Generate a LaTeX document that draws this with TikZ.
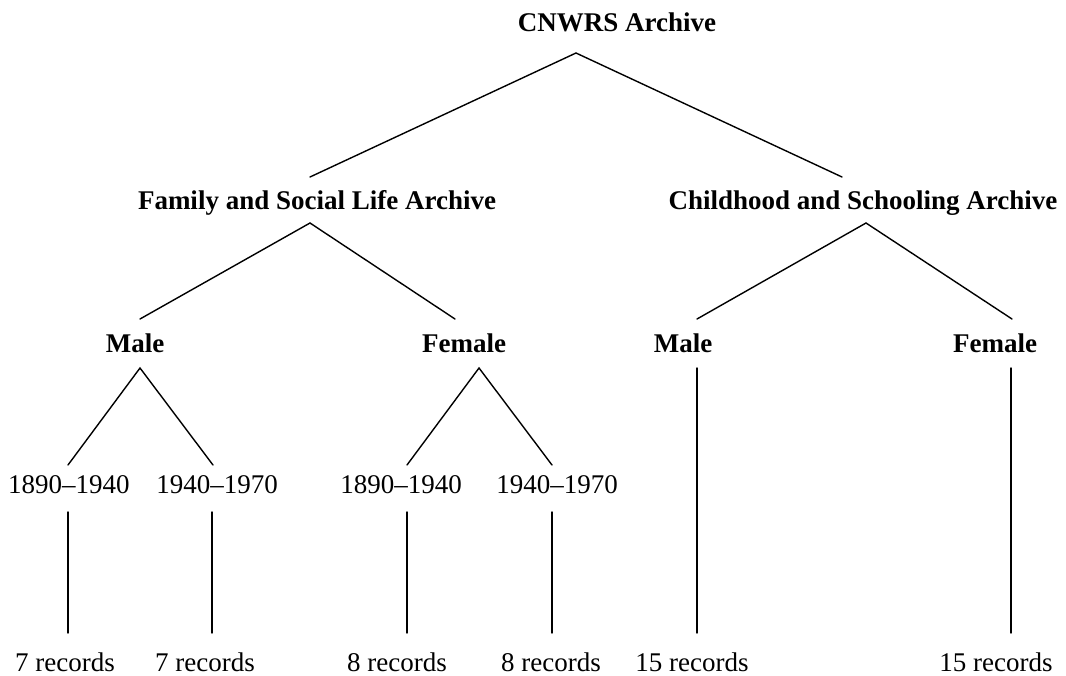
\documentclass[tikz,border=0pt]{standalone}
\usepackage{fontspec}
\setmainfont{Liberation Serif}
\begin{document}
\begin{tikzpicture}[x=1pt,y=-1pt,
  lbl/.style={anchor=base, inner sep=0pt, font=\fontsize{27}{30}\selectfont},
  blbl/.style={anchor=base, inner sep=0pt, font=\fontsize{27}{30}\selectfont\bfseries},
  edge/.style={line width=1.4pt, line cap=round}]
\useasboundingbox (0,0) rectangle (1066,675);
% nodes
\node[blbl] (root) at (617,31) {CNWRS Archive};
\node[blbl] (fam) at (317,209) {Family and Social Life Archive};
\node[blbl] (chi) at (863,209) {Childhood and Schooling Archive};
\node[blbl] (m1) at (135,352) {Male};
\node[blbl] (f1) at (464,352) {Female};
\node[blbl] (m2) at (683,352) {Male};
\node[blbl] (f2) at (995,352) {Female};
\node[lbl] (y11) at (69,493) {1890--1940};
\node[lbl] (y12) at (217,493) {1940--1970};
\node[lbl] (y21) at (401,493) {1890--1940};
\node[lbl] (y22) at (557,493) {1940--1970};
\node[lbl] (r11) at (65,671) {7 records};
\node[lbl] (r12) at (205,671) {7 records};
\node[lbl] (r21) at (397,671) {8 records};
\node[lbl] (r22) at (551,671) {8 records};
\node[lbl] (r3) at (692,671) {15 records};
\node[lbl] (r4) at (996,671) {15 records};
% connector end points
\coordinate (root-b) at (576,53);
\coordinate (fam-t) at (310,177);
\coordinate (chi-t) at (842,177);
\coordinate (fam-b) at (310,223);
\coordinate (chi-b) at (866,223);
\coordinate (m1-t) at (140,319);
\coordinate (f1-t) at (455,319);
\coordinate (m2-t) at (697,319);
\coordinate (f2-t) at (1012,319);
\coordinate (m1-b) at (140,368);
\coordinate (f1-b) at (479,368);
\coordinate (m2-b) at (697,368);
\coordinate (f2-b) at (1011,368);
\coordinate (y11-t) at (68,465);
\coordinate (y12-t) at (213,465);
\coordinate (y21-t) at (407,465);
\coordinate (y22-t) at (552,465);
\coordinate (y11-b) at (68,512);
\coordinate (y12-b) at (212,512);
\coordinate (y21-b) at (407,512);
\coordinate (y22-b) at (552,512);
\coordinate (r11-t) at (68,633);
\coordinate (r12-t) at (212,633);
\coordinate (r21-t) at (407,633);
\coordinate (r22-t) at (552,633);
\coordinate (r3-t) at (697,633);
\coordinate (r4-t) at (1011,633);
% connectors
\draw[edge] (fam-t) -- (root-b) -- (chi-t);
\draw[edge] (m1-t) -- (fam-b) -- (f1-t);
\draw[edge] (m2-t) -- (chi-b) -- (f2-t);
\draw[edge] (y11-t) -- (m1-b) -- (y12-t);
\draw[edge] (y21-t) -- (f1-b) -- (y22-t);
\draw[edge] (m2-b) -- (r3-t);
\draw[edge] (f2-b) -- (r4-t);
\draw[edge] (y11-b) -- (r11-t);
\draw[edge] (y12-b) -- (r12-t);
\draw[edge] (y21-b) -- (r21-t);
\draw[edge] (y22-b) -- (r22-t);
\end{tikzpicture}
\end{document}
